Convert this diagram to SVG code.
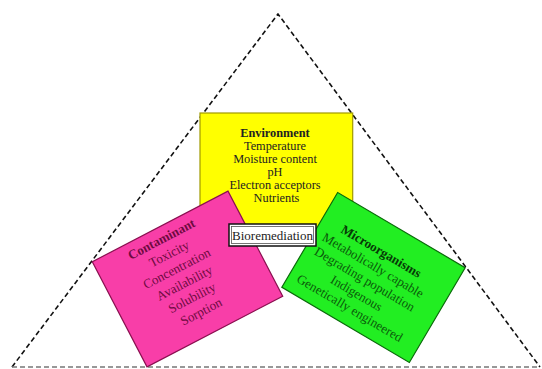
<svg xmlns="http://www.w3.org/2000/svg" width="542" height="369" viewBox="0 0 542 369">
<style>
.t{font-family:"Liberation Serif","Times New Roman",serif;font-size:13px;text-anchor:middle}
.y{font-size:12.3px}
.b{font-weight:bold}
.tri{fill:none;stroke:#111;stroke-width:1.6;stroke-dasharray:5 3}
</style>
<rect width="542" height="369" fill="#fff"/>
<g id="connectors">
<path class="tri" d="M12,367 L278,14 L540,367"/>
<line x1="12" y1="367" x2="540" y2="367" stroke="#777" stroke-width="1.3" stroke-dasharray="5 3"/>
</g>
<g id="environment">
<rect x="200" y="113" width="152.7" height="125" fill="#ffff00" stroke="#a09a00" stroke-width="1.2"/>
<text class="t y" fill="#222">
<tspan class="b" x="276.5" y="136.5">Environment</tspan>
<tspan x="276.5" y="149.5">Temperature</tspan>
<tspan x="276.5" y="162.5">Moisture content</tspan>
<tspan x="276.5" y="175.5">pH</tspan>
<tspan x="276.5" y="188.5">Electron acceptors</tspan>
<tspan x="276.5" y="202">Nutrients</tspan>
</text>
</g>
<g id="contaminant" transform="translate(187.5,279) rotate(-27.5)">
<rect x="-76.5" y="-59.25" width="153" height="118.5" fill="#f83ea8" stroke="#8a1050" stroke-width="1.2"/>
<text class="t" fill="#6e0a40">
<tspan class="b" x="-3" y="-43">Contaminant</tspan>
<tspan x="-3" y="-26.5">Toxicity</tspan>
<tspan x="-3" y="-10">Concentration</tspan>
<tspan x="-3" y="6.5">Availability</tspan>
<tspan x="-3" y="23">Solubility</tspan>
<tspan x="-3" y="39.5">Sorption</tspan>
</text>
</g>
<g id="microorganisms" transform="translate(373.5,277.5) rotate(30.5)">
<rect x="-74" y="-55" width="148" height="110" fill="#22ee22" stroke="#0a6a0a" stroke-width="1.2"/>
<text class="t" fill="#0a5a0a">
<tspan class="b" x="-5" y="-22.3" fill="#063a06">Microorganisms</tspan>
<tspan x="-5" y="-6">Metabolically capable</tspan>
<tspan x="-5" y="10.2">Degrading population</tspan>
<tspan x="-5" y="26.5">Indigenous</tspan>
<tspan x="-5" y="42.7">Genetically engineered</tspan>
</text>
</g>
<g id="bioremediation">
<rect x="229" y="224" width="87" height="22" fill="#fff" stroke="#111" stroke-width="1.5"/>
<rect x="231.5" y="226.5" width="82" height="17" fill="none" stroke="#555" stroke-width="0.8"/>
<text class="t" x="272.5" y="239.5" fill="#222">Bioremediation</text>
</g>
</svg>
